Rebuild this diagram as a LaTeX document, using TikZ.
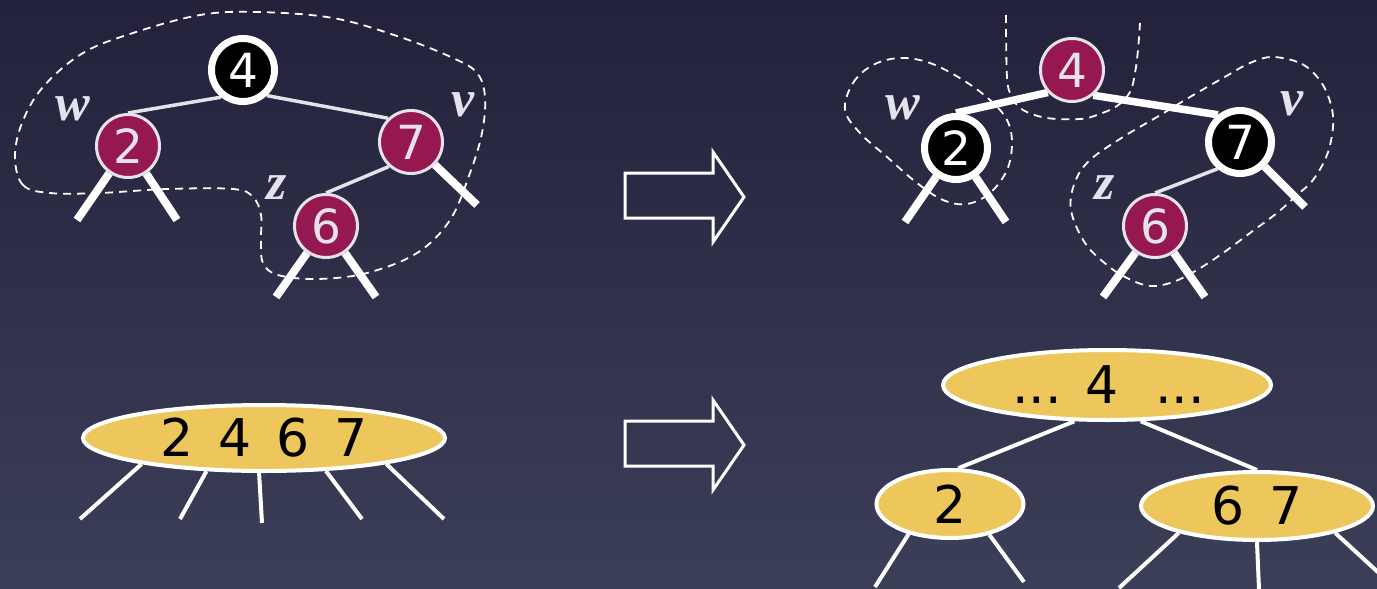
\documentclass[tikz,border=0pt]{standalone}
\usepackage{fontspec}
\setmainfont{DejaVu Sans}
\newfontfamily\lblfont{Liberation Serif}
\usetikzlibrary{shapes.geometric}
\definecolor{bgtop}{HTML}{23213B}
\definecolor{bgbot}{HTML}{3C3F58}
\definecolor{redn}{HTML}{951850}
\definecolor{rim}{HTML}{E6E2EA}
\definecolor{gold}{HTML}{EDC65C}
\definecolor{lbl}{HTML}{E4E2EE}
\pgfdeclarelayer{back}
\pgfdeclarelayer{mid}
\pgfsetlayers{back,mid,main}
\begin{document}
\begin{tikzpicture}[x=1pt,y=-1pt,
  blacknode/.style={circle, fill=black, draw=white, line width=7pt,
    minimum size=63pt, inner sep=0pt, text=white,
    font=\fontsize{47}{52}\selectfont},
  rednode/.style={circle, fill=redn, draw=rim, line width=3pt,
    minimum size=63pt, inner sep=0pt, text=rim,
    font=\fontsize{47}{52}\selectfont},
  thinedge/.style={draw=rim, line width=3.5pt},
  thickedge/.style={draw=white, line width=7.5pt},
  subtree/.style={draw=white, line width=8pt},
  region/.style={draw=white, line width=1.8pt, dash pattern=on 8pt off 6pt},
  lab/.style={text=lbl, inner sep=0pt,
    font=\lblfont\bfseries\itshape\fontsize{52}{58}\selectfont},
  page/.style={ellipse, fill=gold, draw=white, line width=4pt, inner sep=0pt,
    text=black, font=\fontsize{52}{60}\selectfont},
  ptr/.style={draw=white, line width=4pt},
  bigarrow/.style={draw=white, line width=3pt, line join=miter},
]
\useasboundingbox (0,0) rectangle (1377,589);
\begin{pgfonlayer}{back}
  \fill[top color=bgtop, bottom color=bgbot] (0,0) rectangle (1377,589);
\end{pgfonlayer}

% ---------- red-black tree before the split ----------
\node[blacknode] (a4) at (243,70) {4};
\node[rednode] (a2) at (128,146) {2};
\node[rednode] (a7) at (411,142) {7};
\node[rednode] (a6) at (326,226) {6};
\coordinate (a2l) at (77,220);
\coordinate (a2r) at (177,220);
\coordinate (a7r) at (477,205);
\coordinate (a6l) at (276,297);
\coordinate (a6r) at (376,297);

\node[lab] (aw) at (73,109) {w};
\node[lab] (av) at (463,105) {v};
\node[lab] (az) at (277,188) {z};

% ---------- red-black tree after the split ----------
\node[rednode] (b4) at (1072,70) {4};
\node[blacknode] (b2) at (956,148) {2};
\node[blacknode] (b7) at (1240,142) {7};
\node[rednode] (b6) at (1155,226) {6};
\coordinate (b2l) at (905,222);
\coordinate (b2r) at (1006,222);
\coordinate (b7r) at (1305,207);
\coordinate (b6l) at (1103,297);
\coordinate (b6r) at (1205,297);

\node[lab] (bw) at (903,108) {w};
\node[lab] (bv) at (1292,104) {v};
\node[lab] (bz) at (1105,188) {z};

\begin{pgfonlayer}{mid}
  % edges of the first tree
  \draw[thinedge] (a4.231) -- (a2.90);
  \draw[thinedge] (a4.313) -- (a7.134);
  \draw[thinedge] (a7.228) -- (a6.90);
  \draw[subtree] (a2) -- (a2l);
  \draw[subtree] (a2) -- (a2r);
  \draw[subtree] (a7) -- (a7r);
  \draw[subtree] (a6) -- (a6l);
  \draw[subtree] (a6) -- (a6r);
  % the 4-node drawn as one region
  \draw[region] plot[smooth cycle, tension=0.6] coordinates {
    (15,157) (23,185) (50,193) (100,193) (167,189) (233,189) (253,197)
    (261,215) (261,240) (263,263) (278,275) (317,279) (367,273) (417,253)
    (450,220) (470,173) (482,133) (485,97) (477,73) (453,58) (400,37)
    (333,18) (257,12) (200,15) (133,33) (83,53) (43,87) (22,123)};

  % edges of the second tree
  \draw[thickedge] (b4.223) -- (b2.90);
  \draw[thickedge] (b4.310) -- (b7.129);
  \draw[thinedge] (b7.230) -- (b6.90);
  \draw[subtree] (b2) -- (b2l);
  \draw[subtree] (b2) -- (b2r);
  \draw[subtree] (b7) -- (b7r);
  \draw[subtree] (b6) -- (b6l);
  \draw[subtree] (b6) -- (b6r);
  % regions after the split
  \draw[region] plot[smooth cycle, tension=0.6] coordinates {
    (845,110) (853,83) (873,65) (900,58) (930,63) (963,80) (990,100)
    (1007,120) (1012,143) (1007,170) (990,193) (967,204) (943,200)
    (917,183) (887,157) (860,133)};
  \draw[region] plot[smooth, tension=0.6] coordinates {
    (1006,15) (1007,77) (1012,97) (1023,110) (1047,118) (1080,119)
    (1097,115) (1117,106) (1130,92) (1135,73) (1138,50) (1140,23)};
  \draw[region] plot[smooth cycle, tension=0.6] coordinates {
    (1273,57) (1302,64) (1321,82) (1331,105) (1333,127) (1327,155)
    (1313,180) (1297,195) (1277,213) (1250,233) (1223,253) (1197,270)
    (1173,282) (1150,286) (1127,278) (1107,265) (1085,243) (1071,210)
    (1075,182) (1090,160) (1123,137) (1157,117) (1190,97) (1223,78)
    (1250,63)};
\end{pgfonlayer}

% ---------- transformation arrows ----------
\draw[bigarrow] (625,173) -- (713,173) -- (713,152) -- (744,197)
  -- (713,242) -- (713,218) -- (625,218) -- cycle;
\draw[bigarrow] (625,421) -- (713,421) -- (713,400) -- (744,445)
  -- (713,490) -- (713,466) -- (625,466) -- cycle;

% ---------- the same data as B-tree pages ----------
\node[page, minimum width=362pt, minimum height=66pt] (p) at (264,438)
  {2\hspace{25pt}4\hspace{25pt}6\hspace{25pt}7};
\coordinate (p1) at (80,519);
\coordinate (p2) at (180,519);
\coordinate (p3) at (262,523);
\coordinate (p4) at (362,519);
\coordinate (p5) at (444,519);

\node[page, minimum width=328pt, minimum height=70pt] (q) at (1107,385)
  {\hspace*{3pt}...\hspace{24pt}4\hspace{36pt}...};
\node[page, minimum width=147pt, minimum height=68pt] (q2) at (950,504) {2};
\node[page, minimum width=232pt, minimum height=68pt] (q67) at (1257,506)
  {6\hspace{25pt}7};
\coordinate (q2l) at (875,587);
\coordinate (q2r) at (1024,582);
\coordinate (q67l) at (1119,588);
\coordinate (q67m) at (1259,589);
\coordinate (q67r) at (1392,585);

\begin{pgfonlayer}{mid}
  \draw[ptr] (p.192) -- (p1);
  \draw[ptr] (p.210) -- (p2);
  \draw[ptr] (p.262) -- (p3);
  \draw[ptr] (p.332) -- (p4);
  \draw[ptr] (p.348) -- (p5);
  \draw[ptr] (q.228) -- (q2.77);
  \draw[ptr] (q.313) -- (q67.90);
  \draw[ptr] (q2.216) -- (q2l);
  \draw[ptr] (q2.322) -- (q2r);
  \draw[ptr] (q67.199) -- (q67l);
  \draw[ptr] (q67.270) -- (q67m);
  \draw[ptr] (q67.341) -- (q67r);
\end{pgfonlayer}
\end{tikzpicture}
\end{document}
